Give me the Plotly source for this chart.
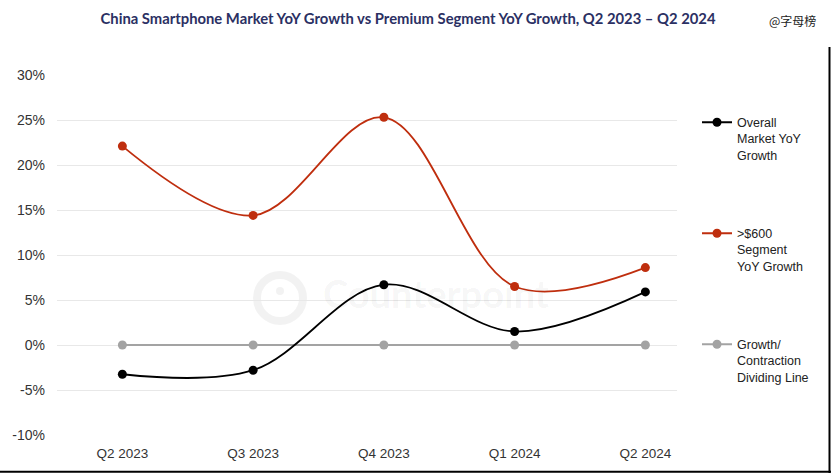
import plotly.graph_objects as go

quarters = ["Q2 2023", "Q3 2023", "Q4 2023", "Q1 2024", "Q2 2024"]
overall = [-3.25, -2.8, 6.7, 1.5, 5.9]
premium = [22.1, 14.4, 25.3, 6.5, 8.6]
divider = [0, 0, 0, 0, 0]
y_ticks = [-10, -5, 0, 5, 10, 15, 20, 25, 30]
y_labels = [f"{v}%" for v in y_ticks]

L, R, T, B = 57, 154, 75, 38
W, H = 831, 473
PW, PH = W - L - R, H - T - B


def px(x):
    return (x - L) / PW


def py(y):
    return (H - B - y) / PH


fig = go.Figure()
fig.add_trace(go.Scatter(
    x=quarters, y=divider, mode="lines+markers", name="Growth/<br>Contraction<br>Dividing Line",
    line=dict(color="#a3a3a3", width=2), marker=dict(size=9, color="#a3a3a3"),
    legend="legend3"))
fig.add_trace(go.Scatter(
    x=quarters, y=overall, mode="lines+markers", name="Overall<br>Market YoY<br>Growth",
    line=dict(color="#000000", width=1.8, shape="spline", smoothing=1),
    marker=dict(size=9, color="#000000"), legend="legend"))
fig.add_trace(go.Scatter(
    x=quarters, y=premium, mode="lines+markers", name=">$600<br>Segment<br>YoY Growth",
    line=dict(color="#bf2e0e", width=1.8, shape="spline", smoothing=1),
    marker=dict(size=9, color="#bf2e0e"), legend="legend2"))

legend_common = dict(font=dict(family="Liberation Sans, Arial", size=12.5, color="#222"),
                     bgcolor="rgba(0,0,0,0)", xanchor="left", yanchor="top",
                     xref="container", yref="container", valign="top",
                     itemwidth=30, tracegroupgap=0)
lx = 697 / W

fig.update_layout(
    width=W, height=H,
    margin=dict(l=L, r=R, t=T, b=B, autoexpand=False),
    paper_bgcolor="white", plot_bgcolor="white",
    title=dict(text="<b>China Smartphone Market YoY Growth vs Premium Segment YoY Growth, Q2 2023 – Q2 2024</b>",
               x=0.491, xanchor="center", y=0.96, yanchor="middle",
               font=dict(family="Lato", size=14.8, color="#2b3063")),
    xaxis=dict(type="category", range=[-0.5, 4.242], showgrid=False, showline=False, ticks="",
               automargin=False, ticklabelstandoff=8,
               tickfont=dict(family="Liberation Sans, Arial", size=13.5, color="#333")),
    yaxis=dict(range=[-10, 30], tickvals=y_ticks, ticktext=y_labels, showgrid=True,
               gridcolor="#e8e8e8", gridwidth=1, zeroline=False, showline=False, ticks="",
               automargin=False, ticklabelstandoff=11,
               tickfont=dict(family="Liberation Sans, Arial", size=14, color="#333")),
    legend=dict(x=lx, y=0.7725, **legend_common),
    legend2=dict(x=lx, y=0.5378, **legend_common),
    legend3=dict(x=lx, y=0.3032, **legend_common),
    showlegend=True,
)

fig.add_annotation(text="@字母榜", xref="paper", yref="paper", x=px(767), y=py(20),
                   xanchor="left", yanchor="middle", showarrow=False,
                   font=dict(family="Noto Sans CJK SC", size=12, color="#222"))

# faint Counterpoint watermark
wm = "rgba(0,0,0,0.05)"
fig.add_annotation(text="<b>Counterpoint</b>", xref="paper", yref="paper", x=px(321), y=py(293),
                   xanchor="left", yanchor="middle", showarrow=False,
                   font=dict(family="Lato", size=38, color=wm))
fig.add_shape(type="circle", xref="paper", yref="paper", x0=px(257), x1=px(303), y0=py(321), y1=py(275),
              line=dict(color=wm, width=8), layer="below")
fig.add_shape(type="circle", xref="paper", yref="paper", x0=px(276), x1=px(284), y0=py(295), y1=py(287),
              line=dict(width=0), fillcolor=wm, layer="below")

# frame lines right and bottom
fig.add_shape(type="line", xref="paper", yref="paper", x0=px(829.5), x1=px(829.5), y0=py(47), y1=py(H),
              line=dict(color="#000", width=2))
fig.add_shape(type="line", xref="paper", yref="paper", x0=px(0), x1=px(W), y0=py(471.8), y1=py(471.8),
              line=dict(color="#000", width=2))

fig.write_html("out.html")
